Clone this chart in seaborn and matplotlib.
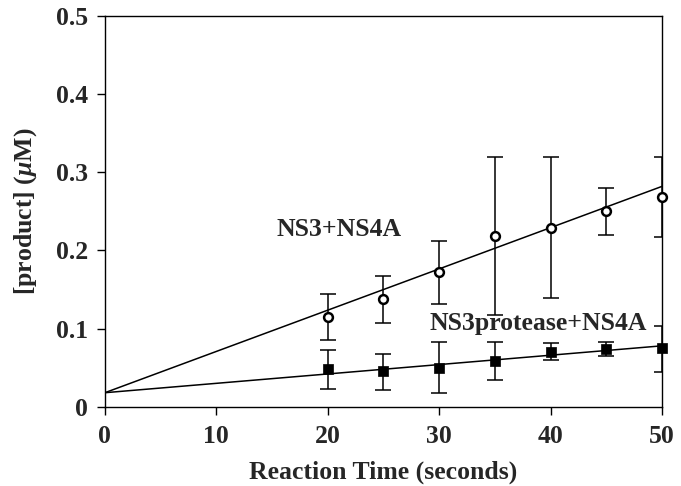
import numpy as np
import pandas as pd
import seaborn as sns
from matplotlib import pyplot as plt

# data
time_s = [20, 25, 30, 35, 40, 45, 50]

ns3_mean = [0.115, 0.138, 0.172, 0.219, 0.229, 0.250, 0.268]
ns3_hi = [0.144, 0.167, 0.212, 0.319, 0.319, 0.280, 0.319]
ns3_lo = [0.085, 0.107, 0.131, 0.118, 0.139, 0.220, 0.217]

prot_mean = [0.048, 0.046, 0.050, 0.059, 0.070, 0.074, 0.075]
prot_hi = [0.073, 0.068, 0.083, 0.083, 0.082, 0.083, 0.104]
prot_lo = [0.023, 0.022, 0.018, 0.034, 0.060, 0.065, 0.045]

# linear fit lines as drawn (end points)
fit_x = [0, 50]
fit_ns3 = [0.018, 0.282]
fit_prot = [0.018, 0.078]

sns.set_style("ticks")
plt.rcParams['font.family'] = ['Liberation Serif', 'DejaVu Serif']
plt.rcParams['font.weight'] = 'bold'
plt.rcParams['mathtext.fontset'] = 'custom'
plt.rcParams['mathtext.it'] = 'Liberation Serif:italic:bold'
plt.rcParams['mathtext.rm'] = 'Liberation Serif:bold'

fig = plt.figure(figsize=(6.81, 4.86), dpi=100)
ax = fig.add_axes([0.154, 0.163, 0.818, 0.804])

df_fit = pd.DataFrame({"t": fit_x * 2,
                       "y": fit_ns3 + fit_prot,
                       "s": ["ns3"] * 2 + ["prot"] * 2})
sns.lineplot(data=df_fit, x="t", y="y", units="s", estimator=None,
             color="black", lw=1.1, ax=ax, legend=False)

m1 = np.array(ns3_mean)
m2 = np.array(prot_mean)
ax.errorbar(time_s, m1, yerr=[m1 - np.array(ns3_lo), np.array(ns3_hi) - m1],
            fmt="none", ecolor="black", elinewidth=1.1, capsize=6, capthick=1.1, zorder=3)
ax.errorbar(time_s, m2, yerr=[m2 - np.array(prot_lo), np.array(prot_hi) - m2],
            fmt="none", ecolor="black", elinewidth=1.1, capsize=6, capthick=1.1, zorder=3)

sns.scatterplot(x=time_s, y=ns3_mean, marker="o", s=40, facecolor="white",
                edgecolor="black", linewidth=1.8, ax=ax, zorder=4, clip_on=False)
sns.scatterplot(x=time_s, y=prot_mean, marker="s", s=46, color="black",
                edgecolor="black", linewidth=0.5, ax=ax, zorder=4, clip_on=False)

ax.text(21.0, 0.227, "NS3+NS4A", fontsize=18.5, ha="center", va="center")
ax.text(38.9, 0.106, "NS3protease+NS4A", fontsize=18.5, ha="center", va="center")

ax.set_xlim(0, 50)
ax.set_ylim(0, 0.5)
ax.set_xticks([0, 10, 20, 30, 40, 50])
ax.set_yticks([0, 0.1, 0.2, 0.3, 0.4, 0.5])
ax.set_yticklabels(["0", "0.1", "0.2", "0.3", "0.4", "0.5"])
ax.tick_params(labelsize=18.5, width=1, length=6, color="black", pad=6)
ax.tick_params(axis="x", pad=7)
ax.set_xlabel("Reaction Time (seconds)", fontsize=18.5, fontweight="bold", labelpad=9)
ax.set_ylabel(r"[product] ($\mu$M)", fontsize=18.5, fontweight="bold", labelpad=12)
for sp in ax.spines.values():
    sp.set_linewidth(1)
    sp.set_color("black")

fig.savefig("out.png", dpi=100)
